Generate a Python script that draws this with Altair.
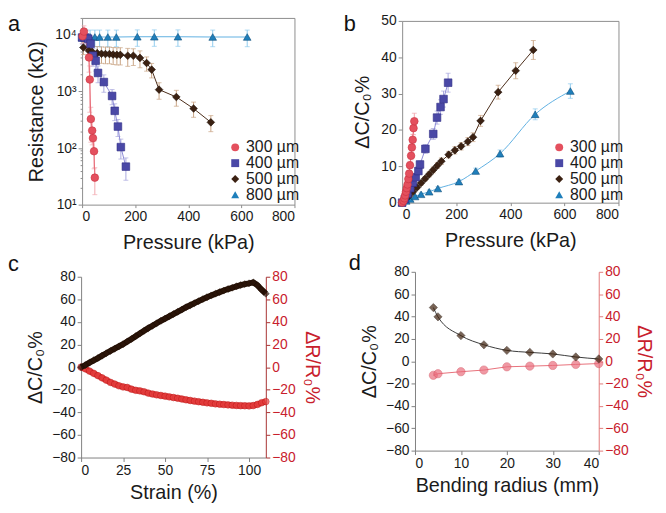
import altair as alt
import pandas as pd

W, H = 658, 497
FONT = "Liberation Sans"

# ---------------- series styling ----------------
series = ["300 µm", "400 µm", "500 µm", "800 µm"]
fill_colors = ["#e4505e", "#4a48a6", "#3b2112", "#1f7fbb"]
edge_colors = ["#c8323f", "#2e2c84", "#1e0f06", "#0f4f7a"]
line_colors = ["#e86c78", "#8c8ad6", "#4a2c18", "#5fb0e2"]
err_colors = ["#f2a7ae", "#a9a8de", "#c9a483", "#8fcbee"]
shapes = ["circle", "square", "diamond", "triangle-up"]

# ---------------- panel a: resistance (kOhm) vs pressure (kPa) ----------------
a_p300 = [2, 7, 26, 29, 33, 38, 41, 45, 48]
a_r300 = [9500, 11500, 4000, 1630, 327, 204, 150, 88, 30]
a_e300 = [2500, 3000, 1800, 1200, 200, 90, 70, 45, 15]

a_p400 = [0, 10, 23, 32, 41, 51, 60, 82, 113, 123, 135, 146, 165]
a_r400 = [9000, 9000, 8600, 7000, 4300, 3500, 2130, 1470, 834, 456, 240, 104, 47]
a_e400 = [2000, 2000, 2000, 1800, 1500, 1200, 700, 500, 250, 150, 80, 40, 20]

a_p500 = [5, 26, 38, 57, 73, 88, 103, 117, 131, 144, 172, 193, 218, 243, 262, 290, 355, 420, 485]
a_r500 = [6000, 5250, 5040, 4760, 4650, 4600, 4600, 4500, 4450, 4450, 4290, 4290, 3930, 3190, 2440, 1080, 800, 500, 285]
a_e500 = [1500, 1500, 1500, 1500, 1500, 1500, 1500, 1500, 1500, 1500, 1500, 1400, 1300, 900, 700, 350, 250, 150, 90]

a_p800 = [0, 15, 30, 48, 66, 97, 129, 208, 272, 361, 492, 622]
a_r800 = [9000, 9100, 9200, 9200, 9200, 9200, 9200, 9300, 9300, 9300, 9200, 9200]
a_e800 = [3000, 3000, 3000, 3000, 3000, 3000, 3000, 3000, 3000, 3000, 3000, 3000]

a_log_ticks = [10, 100, 1000, 10000]
a_log_labels = ["10¹", "10²", "10³", "10⁴"]

# ---------------- panel b: dC/C0 (%) vs pressure (kPa) ----------------
b_p300 = [0, 5, 8, 11, 14, 17, 20, 23, 26, 29, 33, 36, 39, 42, 45]
b_c300 = [0, 0.5, 1.2, 2.0, 3.0, 4.0, 5.0, 6.5, 8.0, 10.3, 12.9, 15.2, 17.3, 20.5, 22.4]
b_e300 = [0.2, 0.3, 0.3, 0.4, 0.5, 0.5, 0.6, 0.7, 0.8, 1.0, 1.1, 1.3, 1.5, 1.8, 2.2]

b_p400 = [0, 10, 20, 30, 40, 50, 60, 66, 86, 115, 129, 142, 153, 170]
b_c400 = [0, 1.0, 2.5, 4.0, 5.5, 7.0, 8.7, 10.5, 14.8, 18.9, 23.4, 26.3, 28.5, 33.0]
b_e400 = [0.2, 0.3, 0.4, 0.5, 0.6, 0.7, 0.8, 1.0, 1.2, 1.5, 1.8, 2.0, 2.2, 2.6]

b_p500 = [0, 10, 25, 40, 55, 70, 85, 100, 115, 130, 145, 172, 195, 218, 243, 262, 290, 355, 420, 485]
b_c500 = [0, 0.8, 1.8, 3.0, 4.2, 5.4, 6.6, 7.8, 9.0, 10.2, 11.4, 13.2, 14.4, 15.5, 16.8, 18.0, 22.5, 30.4, 36.3, 42.0]
b_e500 = [0.2, 0.3, 0.4, 0.5, 0.5, 0.6, 0.6, 0.7, 0.8, 0.8, 0.9, 0.9, 1.0, 1.0, 1.1, 1.2, 1.5, 1.9, 2.2, 2.6]

b_p800 = [0, 15, 30, 48, 70, 100, 132, 210, 272, 362, 492, 622]
b_c800 = [0, 0.5, 1.0, 1.7, 2.3, 3.0, 3.9, 5.8, 8.7, 13.5, 24.3, 30.7]
b_e800 = [0.2, 0.2, 0.3, 0.3, 0.4, 0.5, 0.5, 0.6, 0.8, 1.0, 1.5, 2.0]

# ---------------- panel c: strain ----------------
c_strain = [0, 2.5, 5, 7.5, 10, 12.5, 15, 17.5, 20, 22.5, 25, 27.5, 30, 32.5, 35, 37.5,
            40, 42.5, 45, 47.5, 50, 52.5, 55, 57.5, 60, 62.5, 65, 67.5, 70, 72.5, 75,
            77.5, 80, 82.5, 85, 87.5, 90, 92.5, 95, 97.5, 100, 102.5, 105, 107.5, 110]
c_cap = [0, 1.8, 4.0, 6.0, 8.0, 10.2, 12.3, 14.3, 16.3, 18.3, 20.3, 22.6, 25.0, 27.4, 29.8,
         32.2, 34.5, 36.6, 38.8, 41.0, 43.0, 45.0, 47.0, 49.0, 51.0, 53.0, 54.8, 56.6, 58.4,
         60.2, 61.9, 63.5, 65.0, 66.4, 67.8, 69.1, 70.3, 71.5, 72.6, 73.5, 74.2, 75.0, 72.5,
         68.5, 65.0]
c_res = [0, -1.5, -3.5, -5.5, -7.5, -9.5, -11.5, -13.5, -15.0, -16.5, -17.5, -18.0, -19.5,
         -20.5, -21.0, -21.8, -23.0, -23.8, -24.5, -25.1, -25.7, -26.3, -26.9, -27.5, -28.2,
         -28.9, -29.5, -30.1, -30.6, -31.1, -31.6, -32.0, -32.5, -32.8, -33.1, -33.4, -33.7,
         -33.9, -34.1, -34.2, -34.3, -34.0, -33.0, -31.5, -30.5]

# ---------------- panel d: bending radius ----------------
d_radius = [4, 5, 10, 15, 20, 25, 30, 35, 40]
d_cap = [48.0, 39.7, 22.9, 14.7, 9.7, 7.9, 6.5, 3.8, 2.0]
d_res = [-12.6, -11.2, -9.4, -7.9, -5.0, -4.4, -3.8, -2.9, -2.1]

signed_ticks = [-80, -60, -40, -20, 0, 20, 40, 60, 80]


# ---------------- helpers ----------------
def series_frame(ps, vs, es, name):
    return pd.DataFrame({
        "x": ps, "y": vs,
        "lo": [v - e for v, e in zip(vs, es)],
        "hi": [v + e for v, e in zip(vs, es)],
        "series": name,
    })


def axis(orient, offset, values=None, title=None, color="#8c8c8c", label_color="#1a1a1a",
         labels=True, ticks=True, title_pad=6, label_expr=None, tick_size=4,
         title_color=None, domain=True):
    kw = dict(orient=orient, offset=offset, grid=False, domain=domain,
              domainColor=color, tickColor=color, labelColor=label_color,
              labelFont=FONT, labelFontSize=14, titleFont=FONT, titleFontSize=20,
              titleFontWeight="normal", titleColor=title_color or label_color,
              tickSize=tick_size, labels=labels, ticks=ticks, titlePadding=title_pad,
              labelPadding=2, title=title, labelOverlap=False)
    if values is not None:
        kw["values"] = values
    if label_expr is not None:
        kw["labelExpr"] = label_expr
    return alt.Axis(**kw)


sc_color = lambda rng: alt.Scale(domain=series, range=rng)

layers = []

# ================= PANEL A =================
xa = alt.Scale(domain=[0, 800], range=[75, 290], nice=False, zero=False)
ya = alt.Scale(type="log", domain=[10, 20000], range=[196, 7], nice=False)
da = pd.concat([
    series_frame(a_p800, a_r800, a_e800, series[3]),
    series_frame(a_p500, a_r500, a_e500, series[2]),
    series_frame(a_p400, a_r400, a_e400, series[1]),
    series_frame(a_p300, a_r300, a_e300, series[0]),
], ignore_index=True)

log_expr = ""
for i, (t, lab) in enumerate(zip(a_log_ticks, a_log_labels)):
    if i < len(a_log_ticks) - 1:
        log_expr += f"datum.value < {t * 3} ? '{lab}' : "
    else:
        log_expr += f"'{lab}'"
a_minor = [m * 10 ** k for k in range(1, 5) for m in range(2, 10) if m * 10 ** k <= 20000]


def panel_with_err(df, xs, ys, ax_x, ax_y, legend, interp_800=None):
    out = []
    out.append(alt.Chart(df).mark_rule(strokeWidth=1).encode(
        x=alt.X("x:Q", scale=xs, axis=None),
        y=alt.Y("lo:Q", scale=ys, axis=None), y2="hi:Q",
        color=alt.Color("series:N", scale=sc_color(err_colors), legend=None)))
    for col in ["lo", "hi"]:
        out.append(alt.Chart(df).mark_tick(orient="horizontal", size=5, thickness=1).encode(
            x=alt.X("x:Q", scale=xs, axis=None),
            y=alt.Y(f"{col}:Q", scale=ys, axis=None),
            color=alt.Color("series:N", scale=sc_color(err_colors), legend=None)))
    if interp_800:
        out.append(alt.Chart(df[df.series != series[3]]).mark_line(strokeWidth=1).encode(
            x=alt.X("x:Q", scale=xs, axis=None), y=alt.Y("y:Q", scale=ys, axis=None),
            color=alt.Color("series:N", scale=sc_color(line_colors), legend=None)))
        out.append(alt.Chart(df[df.series == series[3]]).mark_line(
            strokeWidth=1, interpolate=interp_800).encode(
            x=alt.X("x:Q", scale=xs, axis=None), y=alt.Y("y:Q", scale=ys, axis=None),
            color=alt.Color("series:N", scale=sc_color(line_colors), legend=None)))
    else:
        out.append(alt.Chart(df).mark_line(strokeWidth=1).encode(
            x=alt.X("x:Q", scale=xs, axis=None), y=alt.Y("y:Q", scale=ys, axis=None),
            color=alt.Color("series:N", scale=sc_color(line_colors), legend=None)))
    out.append(alt.Chart(df).mark_point(filled=True, size=60, opacity=1, strokeWidth=0.6).encode(
        x=alt.X("x:Q", scale=xs, axis=ax_x),
        y=alt.Y("y:Q", scale=ys, axis=ax_y),
        color=alt.Color("series:N", scale=sc_color(fill_colors), legend=legend),
        shape=alt.Shape("series:N", scale=alt.Scale(domain=series, range=shapes), legend=legend),
        stroke=alt.Stroke("series:N", scale=sc_color(edge_colors), legend=None)))
    return out


def leg(x, y):
    return alt.Legend(orient="none", legendX=x, legendY=y, title=None, labelFont=FONT,
                      labelFontSize=16, symbolSize=64, rowPadding=-1, padding=0,
                      labelOffset=3, labelColor="#1a1a1a", symbolStrokeWidth=0)


dummy = lambda x, y: pd.DataFrame({"x": [x], "y": [y]})

layers += panel_with_err(
    da, xa, ya,
    axis("bottom", 196 - H, [0, 200, 400, 600, 800], "Pressure (kPa)", tick_size=3, title_pad=9),
    axis("left", -75, a_log_ticks, "Resistance (kΩ)", label_expr=log_expr, title_pad=8),
    leg(222, 130))
# frame + minor log ticks
layers.append(alt.Chart(dummy(0, 10)).mark_point(opacity=0).encode(
    x=alt.X("x:Q", scale=xa, axis=axis("top", -7, labels=False, ticks=False)),
    y=alt.Y("y:Q", scale=ya, axis=axis("right", 290 - W, labels=False, ticks=False))))
layers.append(alt.Chart(dummy(0, 10)).mark_point(opacity=0).encode(
    x=alt.X("x:Q", scale=xa, axis=None),
    y=alt.Y("y:Q", scale=ya, axis=axis("left", -75, a_minor, labels=False, tick_size=2,
                                        domain=False))))

# ================= PANEL B =================
xb = alt.Scale(domain=[0, 800], range=[399, 618], nice=False, zero=False)
yb = alt.Scale(domain=[0, 50], range=[194, 10], nice=False, zero=False)
db = pd.concat([
    series_frame(b_p800, b_c800, b_e800, series[3]),
    series_frame(b_p500, b_c500, b_e500, series[2]),
    series_frame(b_p400, b_c400, b_e400, series[1]),
    series_frame(b_p300, b_c300, b_e300, series[0]),
], ignore_index=True)
layers += panel_with_err(
    db, xb, yb,
    axis("bottom", 194 - H, [0, 200, 400, 600, 800], "Pressure (kPa)", tick_size=3, title_pad=9),
    axis("left", -399, [0, 10, 20, 30, 40, 50], "ΔC/C₀%", title_pad=8),
    leg(550, 130), interp_800="monotone")
layers.append(alt.Chart(dummy(0, 0)).mark_point(opacity=0).encode(
    x=alt.X("x:Q", scale=xb, axis=axis("top", -10, labels=False, ticks=False)),
    y=alt.Y("y:Q", scale=yb, axis=axis("right", 618 - W, labels=False, ticks=False))))

# ================= PANEL C =================
xc = alt.Scale(domain=[0, 110], range=[74, 261], nice=False, zero=False)
yc = alt.Scale(domain=[-80, 80], range=[452, 269], nice=False, zero=False)
dc = pd.DataFrame({"x": c_strain, "cap": c_cap, "res": c_res})
RED = "#c8202c"
layers.append(alt.Chart(dc).mark_line(color="#dd3434", strokeWidth=6).encode(
    x=alt.X("x:Q", scale=xc, axis=None), y=alt.Y("res:Q", scale=yc, axis=None)))
layers.append(alt.Chart(dc).mark_point(filled=True, size=45, shape="circle", color="#e64040",
                                       stroke="#c01818", strokeWidth=0.8).encode(
    x=alt.X("x:Q", scale=xc, axis=None),
    y=alt.Y("res:Q", scale=yc, axis=axis("right", 261 - W, signed_ticks, "ΔR/R₀%",
                                          color="#a83232", label_color=RED, title_pad=6))))
layers.append(alt.Chart(dc).mark_line(color="#2a1408", strokeWidth=6).encode(
    x=alt.X("x:Q", scale=xc, axis=None), y=alt.Y("cap:Q", scale=yc, axis=None)))
layers.append(alt.Chart(dc).mark_point(filled=True, size=50, shape="diamond", color="#2a1408",
                                       stroke="#1a0a02", strokeWidth=0.6).encode(
    x=alt.X("x:Q", scale=xc, axis=axis("bottom", 452 - H, [0, 25, 50, 75, 100], "Strain (%)",
                                        color="#808080", title_pad=5)),
    y=alt.Y("cap:Q", scale=yc, axis=axis("left", -74, signed_ticks, "ΔC/C₀%",
                                          color="#808080", title_pad=6))))

# ================= PANEL D =================
xd = alt.Scale(domain=[0, 40], range=[412, 598], nice=False, zero=False)
yd = alt.Scale(domain=[-80, 80], range=[445, 264], nice=False, zero=False)
dd = pd.DataFrame({"x": d_radius, "cap": d_cap, "res": d_res})
layers.append(alt.Chart(dd).mark_line(color="#e8707a", strokeWidth=1).encode(
    x=alt.X("x:Q", scale=xd, axis=None), y=alt.Y("res:Q", scale=yd, axis=None)))
layers.append(alt.Chart(dd).mark_line(color="#3a3a3a", strokeWidth=1, interpolate="monotone").encode(
    x=alt.X("x:Q", scale=xd, axis=None), y=alt.Y("cap:Q", scale=yd, axis=None)))
layers.append(alt.Chart(dd).mark_point(filled=True, size=70, shape="circle", color="#ea6e7e",
                                       stroke="#d04050", strokeWidth=0.6).encode(
    x=alt.X("x:Q", scale=xd, axis=None),
    y=alt.Y("res:Q", scale=yd, axis=axis("right", 598 - W, signed_ticks, "ΔR/R₀%",
                                          color="#e27a7a", label_color=RED, title_pad=6))))
layers.append(alt.Chart(dd).mark_point(filled=True, size=70, shape="diamond", color="#3f220e",
                                       stroke="#1a0a02", strokeWidth=0.6).encode(
    x=alt.X("x:Q", scale=xd, axis=axis("bottom", 445 - H, [0, 10, 20, 30, 40],
                                        "Bending radius (mm)", color="#808080", title_pad=5)),
    y=alt.Y("cap:Q", scale=yd, axis=axis("left", -412, signed_ticks, "ΔC/C₀%",
                                          color="#808080", title_pad=6))))

# ================= panel letters =================
for letter, lx, ly in [("a", 0, 20), ("b", 340, 20), ("c", 0, 263), ("d", 345, 262)]:
    layers.append(alt.Chart(pd.DataFrame({"k": [letter]})).mark_text(
        fontSize=22, font=FONT, align="left", baseline="alphabetic", color="#111").encode(
        x=alt.value(lx), y=alt.value(ly), text="k:N"))

chart = alt.layer(*layers).resolve_scale(
    x="independent", y="independent", color="independent", shape="independent",
    stroke="independent"
).resolve_axis(x="independent", y="independent").properties(
    width=W, height=H, autosize=alt.AutoSizeParams(type="none"), padding=0
).configure_view(strokeWidth=0)

chart.save("out.html", embed_options={"renderer": "svg", "actions": False})
